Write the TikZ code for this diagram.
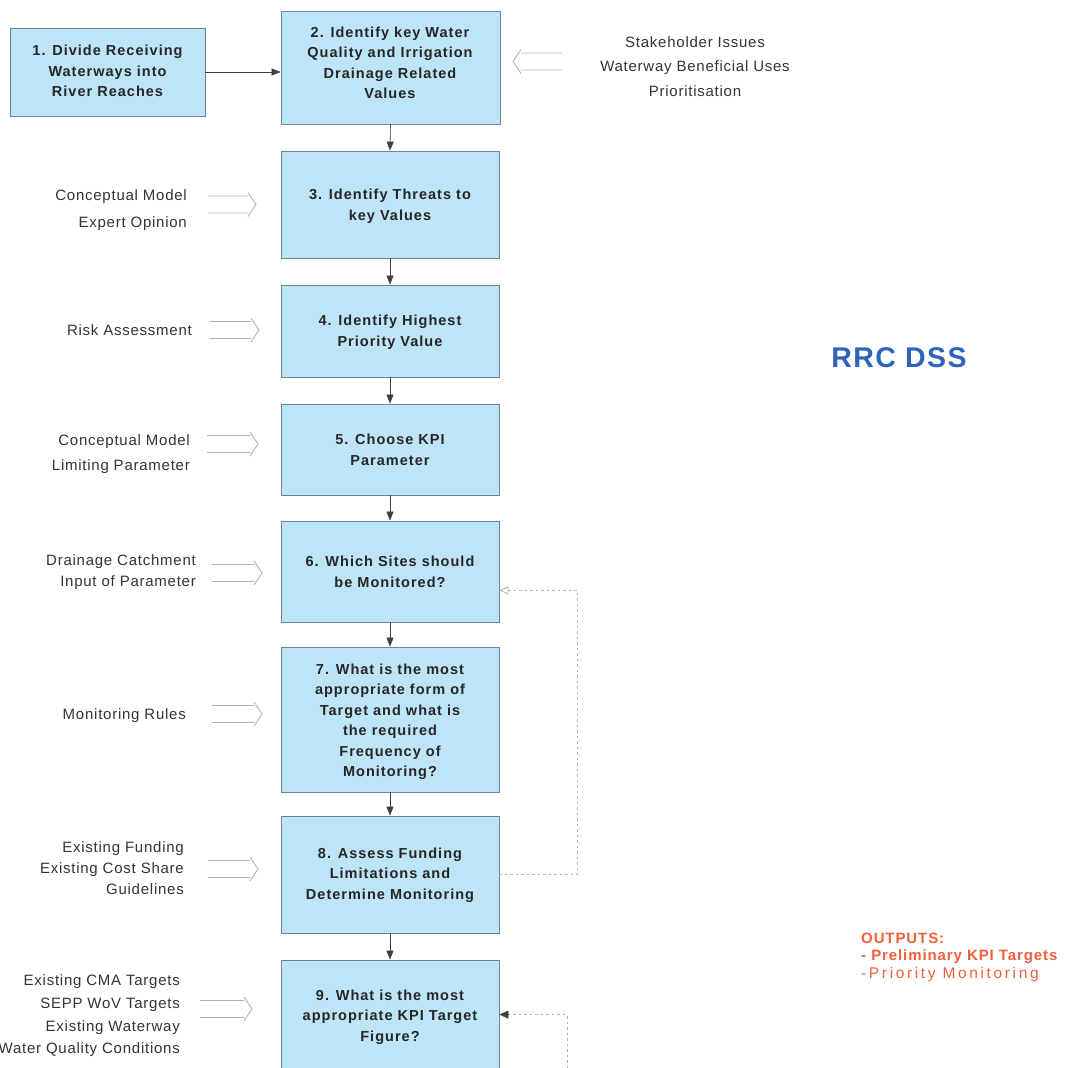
\documentclass[tikz,border=0pt]{standalone}
\usepackage{fontspec}
\setmainfont{Liberation Sans}[LetterSpace=5]
\newfontfamily\boxfont{Liberation Sans}[LetterSpace=7]
\newfontfamily\outfont{Liberation Sans}[LetterSpace=6]
\newfontfamily\handfont{Liberation Sans}[LetterSpace=17]
\usetikzlibrary{arrows.meta,calc}
\definecolor{boxfill}{RGB}{190,228,247}
\definecolor{boxline}{RGB}{105,135,155}
\definecolor{rrcblue}{RGB}{45,100,185}
\definecolor{outred}{RGB}{240,95,60}
\newcommand\myinarrow[3]{%
  \draw[inarr] ($(#1)+(0,-8.5)$) -- ($(#2)+(-8*#3,-8.5)$)
               ($(#1)+(0,8.5)$) -- ($(#2)+(-8*#3,8.5)$)
               ($(#2)+(-8*#3,-12)$) -- (#2) -- ($(#2)+(-8*#3,12)$);}
\begin{document}
\begin{tikzpicture}[x=1pt,y=-1pt,
  box/.style={draw=boxline, fill=boxfill, line width=0.8pt, inner sep=0pt, minimum width=218pt},
  btext/.style={font=\boxfont\fontsize{14.5}{20.5}\selectfont\bfseries, align=center, text=black!85, inner sep=0pt},
  ltext/.style={font=\fontsize{15}{21}\selectfont, align=right, text=black!80, inner sep=0pt, anchor=east},
  flow/.style={-{Triangle[length=9pt,width=7pt]}, line width=0.6pt, black!75},
  inarr/.style={draw=gray!60, line width=0.9pt},
  fb/.style={draw=gray!60, line width=0.8pt, dash pattern=on 2.5pt off 3pt},
]
\path[use as bounding box] (0,0) rectangle (1069,1068);
\clip (0,0) rectangle (1069,1068);

% boxes
\node[box, minimum width=195pt, minimum height=88pt] (b1) at (107.5,72) {};
\node[box, minimum width=219pt, minimum height=113pt] (b2) at (390.5,67.5) {};
\node[box, minimum height=107pt] (b3) at (390,204.5) {};
\node[box, minimum height=92pt] (b4) at (390,331) {};
\node[box, minimum height=91pt] (b5) at (390,449.5) {};
\node[box, minimum height=101pt] (b6) at (390,571.5) {};
\node[box, minimum height=145pt] (b7) at (390,719.5) {};
\node[box, minimum height=117pt] (b8) at (390,874.5) {};
\node[box, minimum height=120pt] (b9) at (390,1020) {};

% box texts
\node[btext] (t1) at (107.5,71) {1. Divide Receiving\\Waterways into\\River Reaches};
\node[btext] (t2) at (390,63) {2. Identify key Water\\Quality and Irrigation\\Drainage Related\\Values};
\node[btext] (t3) at (390,206) {3. Identify Threats to\\key Values};
\node[btext] (t4) at (390,332) {4. Identify Highest\\Priority Value};
\node[btext] (t5) at (390,450) {5. Choose KPI\\Parameter};
\node[btext] (t6) at (390,572) {6. Which Sites should\\be Monitored?};
\node[btext] (t7) at (390,722) {7. What is the most\\appropriate form of\\Target and what is\\the required\\Frequency of\\Monitoring?};
\node[btext] (t8) at (390,875) {8. Assess Funding\\Limitations and\\Determine Monitoring};
\node[btext] (t9) at (390,1017) {9. What is the most\\appropriate KPI Target\\Figure?};

% main flow
\draw[flow] (b1.east) -- (b1.east -| b2.west);
\draw[flow] (b2.south) -- (b3.north);
\draw[flow] (b3.south) -- (b4.north);
\draw[flow] (b4.south) -- (b5.north);
\draw[flow] (b5.south) -- (b6.north);
\draw[flow] (b6.south) -- (b7.north);
\draw[flow] (b7.south) -- (b8.north);
\draw[flow] (b8.south) -- (b9.north);

% feedback loops
\coordinate (fb1end) at ($(b6.south east)+(0,-32)$);
\coordinate (fb1start) at ($(b8.north east)+(0,59)$);
\draw[fb, -{Triangle[open,length=9pt,width=8pt]}] (fb1start) -- ++(78,0) |- (fb1end);
\coordinate (fb2start) at (567,1068);
\coordinate (fb2end) at ($(b9.north east)+(0,55)$);
\draw[fb] (fb2start) |- ($(fb2end)+(10,0)$);
\draw[-{Triangle[length=9pt,width=8pt]}, black!75, line width=0.6pt] ($(fb2end)+(10,0)$) -- (fb2end);

% right inputs
\node[font=\fontsize{15}{24.5}\selectfont, align=center, text=black!80, inner sep=0pt] (r2) at (695,66.5) {Stakeholder Issues\\Waterway Beneficial Uses\\Prioritisation};
\coordinate (a2s) at (562,61.5);
\coordinate (a2e) at (513,61.5);
\myinarrow{a2s}{a2e}{-1}

% left inputs
\node[ltext, font=\fontsize{15}{27}\selectfont] (l3) at (187,210.5) {Conceptual Model\\Expert Opinion};
\node[ltext] (l4) at (192,330) {Risk Assessment};
\node[ltext, font=\fontsize{15}{25}\selectfont] (l5) at (190,454.5) {Conceptual Model\\Limiting Parameter};
\node[ltext] (l6) at (196,572.5) {Drainage Catchment\\Input of Parameter};
\node[ltext] (l7) at (186,716) {Monitoring Rules};
\node[ltext] (l8) at (184,868.5) {Existing Funding\\Existing Cost Share\\Guidelines};
\node[ltext, font=\fontsize{15}{22.7}\selectfont] (l9) at (180,1016) {Existing CMA Targets\\SEPP WoV Targets\\Existing Waterway\\Water Quality Conditions};

\coordinate (a3s) at (208,204.5); \coordinate (a3e) at (256,204.5);
\coordinate (a4s) at (210,330);   \coordinate (a4e) at (259,330);
\coordinate (a5s) at (207,444);   \coordinate (a5e) at (258,444);
\coordinate (a6s) at (212,573);   \coordinate (a6e) at (262,573);
\coordinate (a7s) at (212,714);   \coordinate (a7e) at (262,714);
\coordinate (a8s) at (208,869);   \coordinate (a8e) at (258,869);
\coordinate (a9s) at (200,1009);  \coordinate (a9e) at (252,1009);
\foreach \i in {3,...,9} {\myinarrow{a\i s}{a\i e}{1}}

% title
\node[font=\fontsize{28.5}{30}\selectfont\bfseries, text=rrcblue, inner sep=0pt] (title) at (899,358) {RRC DSS};

% outputs
\node[anchor=west, align=left, inner sep=0pt, text=outred, font=\outfont\fontsize{15}{17.5}\selectfont] (outs) at (861,957)
  {\bfseries OUTPUTS:\\\bfseries - Preliminary KPI Targets\\{\handfont\fontsize{15.5}{17.5}\selectfont -Priority Monitoring}};
\end{tikzpicture}
\end{document}
